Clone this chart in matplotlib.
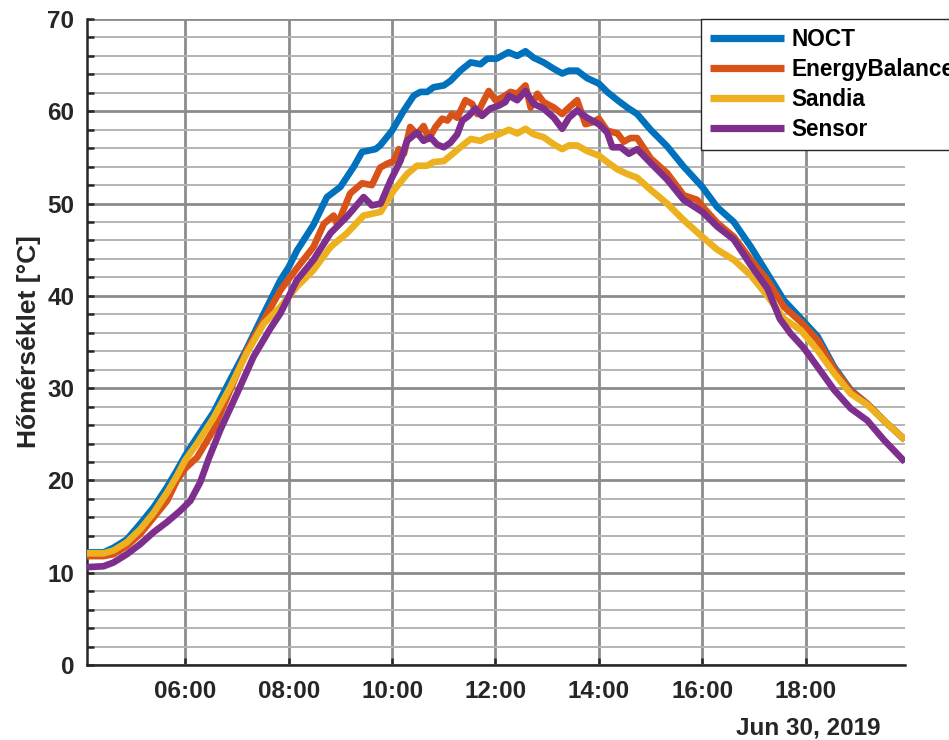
import matplotlib
matplotlib.use("Agg")
import matplotlib.pyplot as plt
import matplotlib.dates as mdates
from matplotlib.ticker import MultipleLocator
import pandas as pd

# Module temperature models vs. measured sensor, 30 June 2019 (time in decimal hours)
noct_t = [4.10, 4.42, 4.61, 4.87, 5.13, 5.39, 5.65, 5.84, 6.00, 6.23, 6.55, 6.87, 7.19, 7.52,
          7.84, 8.00, 8.16, 8.48, 8.74, 9.00, 9.26, 9.42, 9.68, 9.77, 10.00, 10.23, 10.42,
          10.55, 10.68, 10.80, 11.00, 11.13, 11.32, 11.52, 11.71, 11.84, 12.02, 12.25, 12.42,
          12.58, 12.74, 12.93, 13.13, 13.29, 13.42, 13.58, 13.77, 14.00, 14.16, 14.36, 14.55,
          14.74, 15.00, 15.32, 15.64, 16.00, 16.29, 16.61, 16.94, 17.26, 17.58, 17.90, 18.23,
          18.55, 18.87, 19.19, 19.51, 19.92]
noct_v = [12.2, 12.2, 12.7, 13.6, 15.3, 17.1, 19.3, 21.1, 22.7, 24.7, 27.4, 30.9, 34.3, 38.1,
          41.7, 43.1, 44.9, 47.7, 50.7, 51.8, 54.0, 55.6, 55.9, 56.3, 57.9, 60.1, 61.7,
          62.1, 62.1, 62.6, 62.8, 63.3, 64.4, 65.3, 65.1, 65.7, 65.7, 66.4, 66.0,
          66.5, 65.8, 65.3, 64.6, 64.1, 64.4, 64.4, 63.6, 63.0, 62.1, 61.2, 60.4,
          59.7, 58.0, 56.2, 54.0, 51.8, 49.6, 48.0, 45.3, 42.4, 39.5, 37.6, 35.6,
          32.3, 29.8, 28.3, 26.5, 24.4]

eb_t = [4.10, 4.42, 4.61, 4.87, 5.13, 5.39, 5.65, 5.84, 6.00, 6.23, 6.55, 6.87, 7.19, 7.52,
        7.84, 8.16, 8.48, 8.68, 8.87, 8.94, 9.19, 9.42, 9.61, 9.77, 9.90, 10.03, 10.13, 10.23,
        10.35, 10.48, 10.61, 10.71, 10.84, 10.97, 11.07, 11.16, 11.26, 11.42, 11.55, 11.65,
        11.74, 11.87, 12.00, 12.13, 12.29, 12.42, 12.58, 12.68, 12.81, 12.93, 13.13, 13.29,
        13.42, 13.58, 13.74, 13.87, 14.00, 14.16, 14.36, 14.48, 14.61, 14.74, 14.87, 15.00,
        15.32, 15.64, 15.90, 16.00, 16.29, 16.61, 16.94, 17.26, 17.58, 17.90, 18.23, 18.55,
        18.87, 19.19, 19.51, 19.92]
eb_v = [11.8, 11.8, 12.0, 12.9, 14.2, 16.0, 17.8, 20.0, 21.3, 22.5, 25.5, 29.8, 34.1, 37.4,
        40.6, 43.0, 45.3, 47.8, 48.7, 47.7, 51.1, 52.2, 52.0, 53.9, 54.3, 54.6, 55.9, 55.4,
        58.3, 57.5, 58.4, 57.0, 58.3, 59.2, 59.0, 59.7, 59.3, 61.2, 60.8, 59.7,
        60.8, 62.2, 61.2, 61.5, 62.1, 61.9, 62.8, 60.4, 61.9, 61.0, 60.4, 59.7,
        60.4, 61.2, 58.6, 58.8, 59.2, 57.9, 57.6, 56.7, 57.1, 57.1, 56.0, 54.9,
        53.3, 50.9, 50.4, 49.7, 47.9, 46.4, 43.9, 41.7, 38.8, 37.2, 35.2, 32.1,
        29.7, 28.3, 26.5, 24.4]

sandia_t = [4.10, 4.42, 4.61, 4.87, 5.13, 5.39, 5.65, 5.84, 6.00, 6.23, 6.55, 6.87, 7.19, 7.52,
            7.84, 8.16, 8.48, 8.81, 9.13, 9.45, 9.78, 10.03, 10.29, 10.48, 10.68, 10.80, 11.00,
            11.13, 11.32, 11.52, 11.71, 11.84, 12.02, 12.26, 12.42, 12.58, 12.74, 12.93, 13.13,
            13.29, 13.42, 13.58, 13.77, 14.00, 14.16, 14.36, 14.55, 14.74, 15.00, 15.32, 15.64,
            16.00, 16.29, 16.61, 16.94, 17.26, 17.58, 17.90, 18.23, 18.55, 18.87, 19.19, 19.51,
            19.92]
sandia_v = [12.1, 12.1, 12.4, 13.3, 14.7, 16.5, 18.7, 20.5, 22.2, 24.0, 26.8, 30.1, 33.8, 37.0,
            38.8, 41.0, 42.8, 45.3, 46.8, 48.7, 49.1, 51.4, 53.2, 54.1, 54.1, 54.5, 54.6,
            55.2, 56.1, 57.0, 56.8, 57.2, 57.4, 58.0, 57.6, 58.1, 57.5, 57.2, 56.4,
            55.9, 56.3, 56.3, 55.7, 55.2, 54.5, 53.7, 53.2, 52.8, 51.5, 50.0, 48.2,
            46.4, 45.0, 43.9, 42.2, 40.0, 37.5, 36.3, 34.1, 31.6, 29.4, 28.2, 26.5,
            24.4]

sensor_t = [4.10, 4.42, 4.61, 4.87, 5.13, 5.39, 5.65, 5.90, 6.10, 6.29, 6.45, 6.68, 7.00, 7.32,
            7.65, 7.84, 8.16, 8.48, 8.81, 9.13, 9.45, 9.61, 9.78, 9.97, 10.16, 10.29, 10.48,
            10.61, 10.74, 10.87, 11.00, 11.13, 11.26, 11.36, 11.48, 11.61, 11.74, 11.90, 12.06,
            12.19, 12.26, 12.42, 12.58, 12.74, 12.93, 13.13, 13.29, 13.42, 13.58, 13.77, 14.00,
            14.16, 14.26, 14.42, 14.58, 14.74, 15.00, 15.32, 15.64, 16.00, 16.29, 16.61, 16.94,
            17.26, 17.50, 17.71, 17.97, 18.23, 18.55, 18.87, 19.19, 19.51, 19.92]
sensor_v = [10.6, 10.7, 11.1, 12.0, 13.1, 14.4, 15.5, 16.7, 17.8, 19.8, 22.3, 25.5, 29.4, 33.4,
            36.5, 38.1, 41.7, 43.9, 46.8, 48.6, 50.7, 49.8, 50.0, 52.5, 54.6, 56.8, 57.7,
            56.8, 57.2, 56.4, 56.1, 56.6, 57.5, 59.0, 59.5, 60.3, 59.5, 60.3, 60.6,
            61.0, 61.7, 61.2, 62.2, 60.8, 60.3, 59.3, 58.1, 59.3, 60.1, 59.3, 58.6,
            57.7, 56.1, 56.1, 55.4, 55.9, 54.4, 52.6, 50.4, 49.1, 47.5, 46.1, 43.3,
            40.8, 37.5, 35.9, 34.3, 32.3, 29.8, 27.8, 26.5, 24.4, 22.0]

series_names = ["NOCT", "EnergyBalance", "Sandia", "Sensor"]
series_colors = ["#0072BD", "#D95319", "#EDB120", "#7E2F8E"]

day = pd.Timestamp("2019-06-30")


def to_time(hours):
    return day + pd.to_timedelta(hours, unit="h")


plt.rcParams["font.family"] = ["Liberation Sans", "DejaVu Sans"]
plt.rcParams["font.weight"] = "bold"

fig = plt.figure(figsize=(9.49, 7.40), dpi=100)
ax = fig.add_axes([87 / 949, 75 / 740, (905 - 87) / 949, (665 - 19) / 740])

text_col = "#262626"

for t, v, name, col in zip([noct_t, eb_t, sandia_t, sensor_t],
                           [noct_v, eb_v, sandia_v, sensor_v],
                           series_names, series_colors):
    ax.plot(to_time(t), v, color=col, lw=4.8, label=name, solid_joinstyle="round",
            solid_capstyle="butt", zorder=3)

ax.set_xlim(to_time(4.10), to_time(19.92))
ax.set_ylim(0, 70)

ax.xaxis.set_major_locator(mdates.HourLocator(byhour=range(0, 24, 2)))
ax.xaxis.set_major_formatter(mdates.DateFormatter("%H:%M"))
ax.yaxis.set_major_locator(MultipleLocator(10))
ax.yaxis.set_minor_locator(MultipleLocator(2))

ax.grid(True, which="major", axis="both", color="#8c8c8c", lw=2.0, zorder=1)
ax.grid(True, which="minor", axis="y", color="#b4b4b4", lw=1.4, zorder=1)
ax.set_axisbelow(True)

for side in ("top", "right"):
    ax.spines[side].set_visible(False)
for side in ("left", "bottom"):
    ax.spines[side].set_color(text_col)
    ax.spines[side].set_linewidth(1.8)

ax.tick_params(axis="both", which="both", direction="in", color=text_col, width=1.8,
               length=5, labelsize=17.5, labelcolor=text_col)
ax.tick_params(axis="y", which="major", pad=9)
ax.tick_params(axis="x", which="major", pad=11)
for lab in ax.get_xticklabels() + ax.get_yticklabels():
    lab.set_fontweight("bold")

ax.set_ylabel("Hőmérséklet [°C]", fontsize=19, fontweight="bold", color=text_col, labelpad=5)

fig.text(881 / 949, 6 / 740, "Jun 30, 2019", ha="right", va="baseline",
         fontsize=17.5, fontweight="bold", color=text_col)

leg = ax.legend(loc="upper left", bbox_to_anchor=(701 / 949, 1 - 19 / 740),
                bbox_transform=fig.transFigure, prop={"size": 16.3, "weight": "bold"},
                handlelength=3.3, handletextpad=0.3, labelspacing=0.32, borderpad=0.38,
                borderaxespad=0, fancybox=False, framealpha=1, edgecolor="#262626")
leg.get_frame().set_linewidth(1.0)
for h in leg.get_lines():
    h.set_linewidth(5.2)

fig.savefig("out.png", dpi=100)
